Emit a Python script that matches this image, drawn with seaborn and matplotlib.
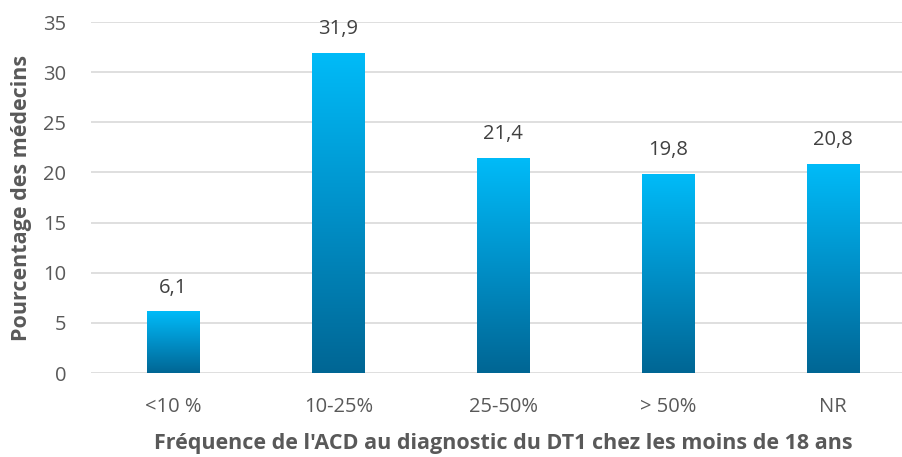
import numpy as np
import pandas as pd
import matplotlib
matplotlib.use("Agg")
import matplotlib.pyplot as plt
from matplotlib.colors import LinearSegmentedColormap
import seaborn as sns

categories = ["<10 %", "10-25%", "25-50%", "> 50%", "NR"]
values = [6.1, 31.9, 21.4, 19.8, 20.8]
value_labels = ["6,1", "31,9", "21,4", "19,8", "20,8"]

df = pd.DataFrame({"cat": categories, "val": values})

sns.set_theme(style="white")
plt.rcParams["font.family"] = ["Open Sans", "DejaVu Sans"]

fig = plt.figure(figsize=(9.02, 4.57), dpi=100)
ax = fig.add_axes([0.101, 0.1838, 0.914, 0.768])

sns.barplot(data=df, x="cat", y="val", width=0.32, color="#00a0d8", ax=ax, zorder=2)

# vertical gradient inside each bar
cmap = LinearSegmentedColormap.from_list("blu", ["#006694", "#0090c8", "#00bbf8"])
grad = np.linspace(0, 1, 256).reshape(-1, 1)
for p in ax.patches:
    x0, y0 = p.get_x(), p.get_y()
    w, h = p.get_width(), p.get_height()
    p.set_alpha(0)
    ax.imshow(grad, cmap=cmap, origin="lower", aspect="auto",
              extent=[x0, x0 + w, y0, y0 + h], zorder=3)

for i, (v, lab) in enumerate(zip(values, value_labels)):
    ax.text(i, v + 1.4, lab, ha="center", va="bottom", fontsize=14.5, color="#404040")

ax.set_xlim(-0.5, 4.5)
ax.set_ylim(0, 35)
ax.set_yticks(range(0, 36, 5))
ax.yaxis.grid(True, color="#d9d9d9", linewidth=1.2, zorder=0)
ax.set_axisbelow(True)
for s in ax.spines.values():
    s.set_visible(False)
ax.tick_params(axis="both", length=0, labelsize=14.5, labelcolor="#595959")
ax.tick_params(axis="x", pad=17)
ax.tick_params(axis="y", pad=18)

ax.set_xlabel("Fréquence de l'ACD au diagnostic du DT1 chez les moins de 18 ans",
              fontsize=15.5, fontweight="bold", color="#595959", labelpad=12)
ax.set_ylabel("Pourcentage des médecins", fontsize=15.5, fontweight="bold",
              color="#595959", labelpad=8)

fig.savefig("out.png", dpi=100)
plt.close(fig)
